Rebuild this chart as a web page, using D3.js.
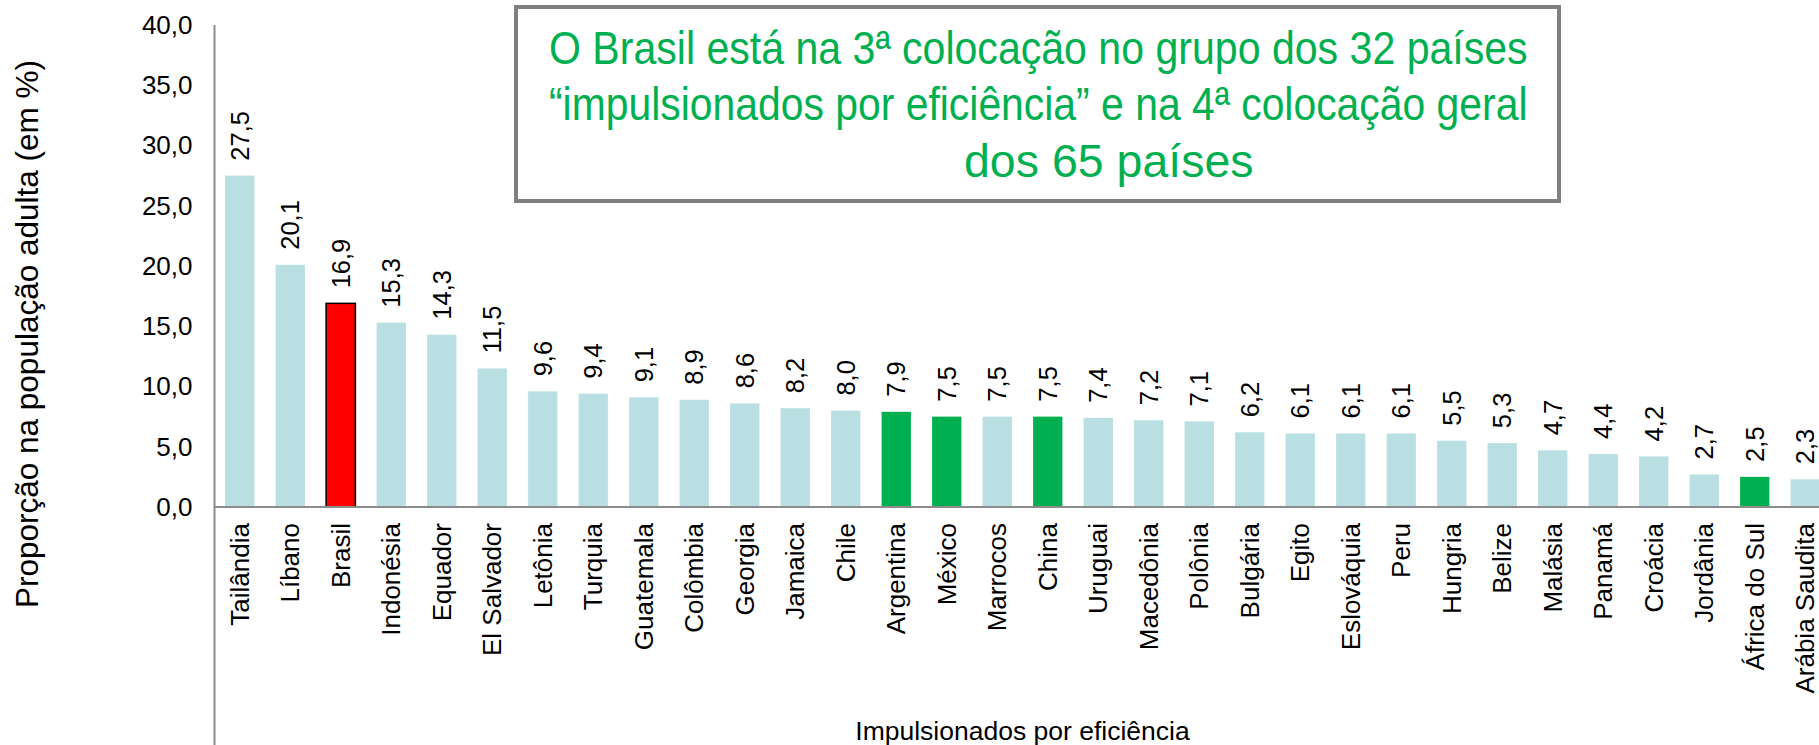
<!DOCTYPE html>
<html>
<head>
<meta charset="utf-8">
<script src="https://cdn.jsdelivr.net/npm/d3@7"></script>
<style>
  body { margin: 0; background: #fff; }
  svg { display: block; font-family: "Liberation Sans", Arial, sans-serif; }
</style>
</head>
<body>
<div id="chart"></div>
<script>
// data
var countries = ["Tailândia", "Líbano", "Brasil", "Indonésia", "Equador", "El Salvador",
  "Letônia", "Turquia", "Guatemala", "Colômbia", "Georgia", "Jamaica", "Chile",
  "Argentina", "México", "Marrocos", "China", "Uruguai", "Macedônia", "Polônia",
  "Bulgária", "Egito", "Eslováquia", "Peru", "Hungria", "Belize", "Malásia",
  "Panamá", "Croácia", "Jordânia", "África do Sul", "Arábia Saudita"];
var values = [27.5, 20.1, 16.9, 15.3, 14.3, 11.5, 9.6, 9.4, 9.1, 8.9, 8.6, 8.2, 8.0,
  7.9, 7.5, 7.5, 7.5, 7.4, 7.2, 7.1, 6.2, 6.1, 6.1, 6.1, 5.5, 5.3, 4.7, 4.4, 4.2,
  2.7, 2.5, 2.3];
var highlightRed = ["Brasil"];
var highlightGreen = ["Argentina", "México", "China", "África do Sul"];
var yTicks = [0, 5, 10, 15, 20, 25, 30, 35, 40];
var yTitle = "Proporção na população adulta (em %)";
var xTitle = "Impulsionados por eficiência";
var titleLines = ["O Brasil está na 3ª colocação no grupo dos 32 países",
  "“impulsionados por eficiência” e na 4ª colocação geral",
  "dos 65 países"];

var W = 1819, H = 745;
var x0 = 214.5, step = 50.5;
var green = "#00B050", blue = "#BADFE2", axisGrey = "#8C8C8C";
var fontStack = "Liberation Sans, Arial, sans-serif";

var ptBR = d3.formatLocale({decimal: ",", thousands: ".", grouping: [3], currency: ["R$", ""]});
var fmt = ptBR.format(".1f");

var svg = d3.select("#chart").append("svg")
  .attr("width", W)
  .attr("height", H);

svg.append("rect").attr("width", W).attr("height", H).attr("fill", "#fff");

var xx = d3.scaleBand()
  .domain(countries)
  .range([x0, x0 + step * countries.length])
  .paddingInner(0.42)
  .paddingOuter(0.21);
var yy = d3.scaleLinear().domain([0, 40]).range([507, 25]);

var rows = countries.map(function(c, i) { return {name: c, value: values[i]}; });

function barFill(d) {
  if (highlightRed.indexOf(d.name) >= 0) return "#FF0000";
  if (highlightGreen.indexOf(d.name) >= 0) return green;
  return blue;
}

// bars
svg.append("g").selectAll("rect")
  .data(rows)
  .enter().append("rect")
  .attr("x", function(d) { return xx(d.name); })
  .attr("y", function(d) { return yy(d.value); })
  .attr("width", xx.bandwidth())
  .attr("height", function(d) { return yy(0) - yy(d.value); })
  .attr("fill", barFill)
  .attr("stroke", function(d) { return highlightRed.indexOf(d.name) >= 0 ? "#000" : "none"; })
  .attr("stroke-width", 1.5);

// y axis (labels only, no ticks)
var yAxis = svg.append("g")
  .attr("transform", "translate(" + x0 + ",0)")
  .call(d3.axisLeft(yy).tickValues(yTicks).tickFormat(fmt).tickSize(0).tickPadding(22));
yAxis.select(".domain").remove();
yAxis.selectAll("text").attr("font-size", 26).attr("fill", "#000")
  .style("font-family", fontStack);

// category labels
var xAxis = svg.append("g")
  .attr("transform", "translate(0," + yy(0) + ")")
  .call(d3.axisBottom(xx).tickSize(0));
xAxis.select(".domain").remove();
xAxis.selectAll("text")
  .attr("transform", "rotate(-90)")
  .attr("x", -16)
  .attr("y", 0)
  .attr("dy", "0.35em")
  .attr("text-anchor", "end")
  .attr("font-size", 26)
  .attr("fill", "#000")
  .style("font-family", fontStack);

// axis lines
svg.append("line")
  .attr("x1", x0).attr("x2", x0)
  .attr("y1", yy(40)).attr("y2", H)
  .attr("stroke", axisGrey).attr("stroke-width", 2);
svg.append("line")
  .attr("x1", x0).attr("x2", W)
  .attr("y1", yy(0)).attr("y2", yy(0))
  .attr("stroke", axisGrey).attr("stroke-width", 2);

// value labels
svg.append("g").selectAll("text")
  .data(rows)
  .enter().append("text")
  .attr("transform", function(d) {
    return "translate(" + (xx(d.name) + xx.bandwidth() / 2) + "," + (yy(d.value) - 15) + ") rotate(-90)";
  })
  .attr("dy", "0.35em")
  .attr("font-size", 25.5)
  .attr("fill", "#000")
  .text(function(d) { return fmt(d.value); });

// axis titles
svg.append("text")
  .attr("transform", "translate(38,334) rotate(-90)")
  .attr("text-anchor", "middle")
  .attr("font-size", 31.5)
  .text(yTitle);

svg.append("text")
  .attr("x", x0 + step * countries.length / 2)
  .attr("y", 740)
  .attr("text-anchor", "middle")
  .attr("font-size", 26.5)
  .text(xTitle);

// callout box
svg.append("rect")
  .attr("x", 516).attr("y", 7)
  .attr("width", 1043).attr("height", 194)
  .attr("fill", "#fff")
  .attr("stroke", "#808080")
  .attr("stroke-width", 4);

// first two lines are squeezed to the box, last one sits at its natural width
var lineWidth = 979, lineLeft = 549;
var baselines = [64, 120.5, 177];
var tl = svg.append("g").selectAll("text")
  .data(titleLines)
  .enter().append("text")
  .attr("y", function(d, i) { return baselines[i]; })
  .attr("font-size", 46.5)
  .attr("fill", green)
  .text(function(d) { return d; });
tl.each(function(d, i) {
  var t = d3.select(this);
  if (i < 2) {
    var natural = this.getComputedTextLength();
    var k = lineWidth / natural;
    t.attr("transform", "translate(" + lineLeft + ",0) scale(" + k + ",1)");
  } else {
    t.attr("x", 964);
  }
});
</script>
</body>
</html>
